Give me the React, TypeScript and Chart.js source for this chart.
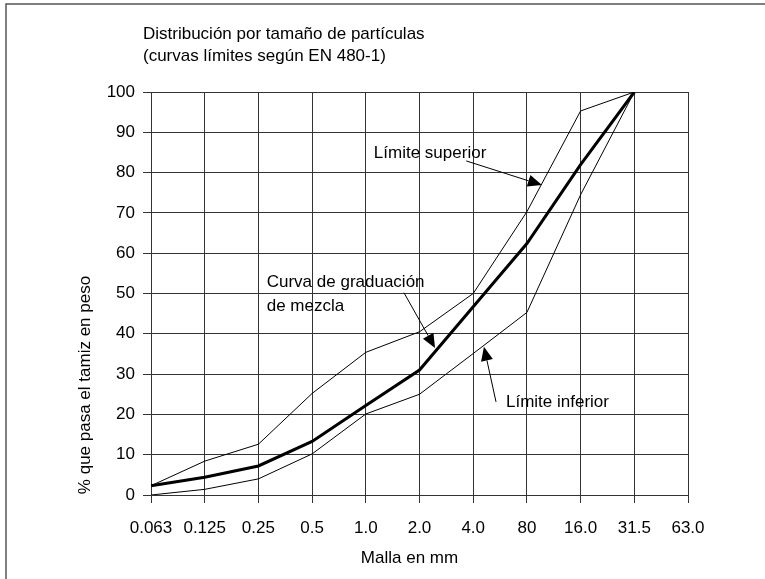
import { useEffect, useRef } from 'react';
import { Chart, registerables } from 'chart.js';

Chart.register(...registerables);

// ---- data ----
const sieveSizes = ['0.063', '0.125', '0.25', '0.5', '1.0', '2.0', '4.0', '80', '16.0', '31.5', '63.0'];
const upperLimit = [2.3, 8.4, 12.6, 25.2, 35.4, 40.5, 50, 70.3, 95.3, 100, null];
const mixCurve = [2.3, 4.4, 7.2, 13.3, 22.2, 31, 46.7, 62.4, 82, 100, null];
const lowerLimit = [0, 1.4, 4, 10.2, 20.1, 25, 35.1, 45.3, 74.5, 100, null];
const titleLines = ['Distribución por tamaño de partículas', '(curvas límites según EN 480-1)'];
const xTitle = 'Malla en mm';
const yTitle = '% que pasa el tamiz en peso';

// annotation texts and anchors in data space (category index, percent)
const annotationTexts = [['Límite superior'], ['Curva de graduación', 'de mezcla'], ['Límite inferior']];
const annotationTextAt = [[4.15, 83.6], [2.155, 51.6], [6.61, 21.9]];
const annotationArrowFrom = [[5.87, 82.9], [4.71, 50.2], [6.425, 23.1]];
const annotationArrowTo = [[7.28, 76.9], [5.29, 36.5], [6.2, 36.8]];

const FONT = "'Liberation Sans', Arial, Helvetica, sans-serif";

const overlayPlugin = {
  id: 'overlay',
  afterDraw(chart: any) {
    const ctx = chart.ctx;
    const xs = chart.scales.x;
    const ys = chart.scales.y;
    ctx.save();
    // frame
    ctx.strokeStyle = '#555';
    ctx.lineWidth = 1.5;
    ctx.strokeRect(6, 4, 900, 900);
    ctx.fillStyle = '#000';
    ctx.font = `17px ${FONT}`;
    ctx.textAlign = 'left';
    ctx.textBaseline = 'alphabetic';
    ctx.fillText(titleLines[0], 143, 39);
    ctx.fillText(titleLines[1], 143, 61);
    // x title
    ctx.textAlign = 'center';
    ctx.fillText(xTitle, (xs.left + xs.right) / 2 - 10, 563);
    // y title
    ctx.save();
    ctx.translate(85, 385);
    ctx.rotate(-Math.PI / 2);
    ctx.textBaseline = 'middle';
    ctx.fillText(yTitle, 0, 0);
    ctx.restore();
    // annotations
    ctx.textAlign = 'left';
    ctx.textBaseline = 'alphabetic';
    annotationTexts.forEach((lines, i) => {
      const tx = xs.getPixelForValue(annotationTextAt[i][0]);
      const ty = ys.getPixelForValue(annotationTextAt[i][1]);
      lines.forEach((l, j) => ctx.fillText(l, tx, ty + j * 24));
      const x0 = xs.getPixelForValue(annotationArrowFrom[i][0]);
      const y0 = ys.getPixelForValue(annotationArrowFrom[i][1]);
      const x1 = xs.getPixelForValue(annotationArrowTo[i][0]);
      const y1 = ys.getPixelForValue(annotationArrowTo[i][1]);
      const ang = Math.atan2(y1 - y0, x1 - x0);
      const hl = 14;
      const hw = 6;
      ctx.strokeStyle = '#000';
      ctx.lineWidth = 1;
      ctx.beginPath();
      ctx.moveTo(x0, y0);
      ctx.lineTo(x1 - hl * Math.cos(ang), y1 - hl * Math.sin(ang));
      ctx.stroke();
      ctx.beginPath();
      ctx.moveTo(x1, y1);
      const bx = x1 - hl * Math.cos(ang);
      const by = y1 - hl * Math.sin(ang);
      ctx.lineTo(bx + hw * Math.sin(ang), by - hw * Math.cos(ang));
      ctx.lineTo(bx - hw * Math.sin(ang), by + hw * Math.cos(ang));
      ctx.closePath();
      ctx.fill();
    });
    ctx.restore();
  },
};

export default function App() {
  const ref = useRef<HTMLCanvasElement>(null);
  useEffect(() => {
    document.body.style.margin = '0';
    const chart = new Chart(ref.current as HTMLCanvasElement, {
      type: 'line',
      data: {
        labels: sieveSizes,
        datasets: [
          { label: 'Límite superior', data: upperLimit, borderColor: '#000', borderWidth: 1, pointRadius: 0, tension: 0 },
          { label: 'Curva de graduación de mezcla', data: mixCurve, borderColor: '#000', borderWidth: 3, pointRadius: 0, tension: 0 },
          { label: 'Límite inferior', data: lowerLimit, borderColor: '#000', borderWidth: 1, pointRadius: 0, tension: 0 },
        ],
      },
      options: {
        responsive: false,
        animation: false,
        layout: { padding: { top: 92, right: 77, left: 0, bottom: 0 } },
        plugins: { legend: { display: false }, tooltip: { enabled: false }, title: { display: false } },
        scales: {
          x: {
            type: 'category',
            offset: false,
            grid: { color: '#333', lineWidth: 1, tickLength: 8, offset: false },
            border: { color: '#333' },
            ticks: { color: '#000', font: { family: FONT, size: 17 }, padding: 15, maxRotation: 0, autoSkip: false },
            afterFit: (s: any) => { s.height = 84; },
          },
          y: {
            min: 0,
            max: 100,
            grid: { color: '#333', lineWidth: 1, tickLength: 8 },
            border: { color: '#333' },
            ticks: { color: '#000', stepSize: 10, font: { family: FONT, size: 17 }, padding: 8 },
            afterFit: (s: any) => { s.width = 151; },
          },
        },
      },
      plugins: [overlayPlugin],
    });
    return () => chart.destroy();
  }, []);
  return (
    <div style={{ width: 765, height: 579 }}>
      <canvas ref={ref} width={765} height={579} />
    </div>
  );
}
